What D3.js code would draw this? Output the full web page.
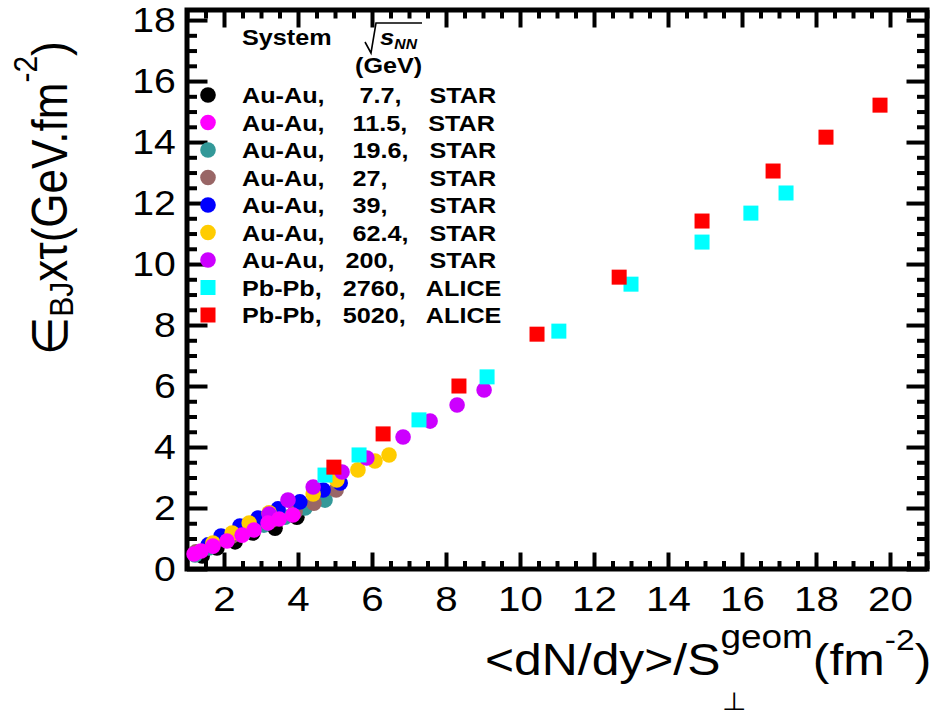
<!DOCTYPE html>
<html>
<head>
<meta charset="utf-8">
<script src="https://cdn.jsdelivr.net/npm/d3@7"></script>
<style>
  html, body { margin: 0; padding: 0; background: #fff; }
  svg { display: block; }
  text { font-family: "Liberation Sans", Arial, Helvetica, sans-serif; fill: #000; white-space: pre; }
</style>
</head>
<body>
<svg id="chart" width="932" height="716"></svg>
<script>
// Bjorken energy density x formation time vs. transverse particle density
// Each series: [<dN/dy>/S_perp, eps_BJ * tau]
const auau7p7 = [[1.41,0.43],[1.81,0.69],[2.30,0.89],[2.78,1.18],[3.38,1.34],[3.97,1.70]];
const auau11p5 = [[1.19,0.49],[1.38,0.59],[1.70,0.75],[2.08,0.92],[2.49,1.11],[2.81,1.28],[3.19,1.51],[3.49,1.64],[3.86,1.77]];
const auau19p6 = [[1.22,0.46],[1.59,0.69],[2.05,0.95],[2.54,1.18],[3.08,1.44],[3.65,1.70],[4.19,2.00],[4.73,2.26]];
const auau27 = [[1.24,0.56],[1.70,0.79],[2.22,1.08],[2.76,1.34],[3.30,1.61],[3.92,1.87],[4.43,2.16],[5.03,2.59]];
const auau39 = [[1.57,0.79],[1.92,1.08],[2.43,1.41],[2.92,1.67],[3.46,1.97],[4.05,2.20],[4.68,2.59],[5.14,2.82]];
const auau62p4 = [[1.70,0.85],[2.22,1.18],[2.68,1.51],[3.22,1.84],[4.41,2.46],[5.05,2.92],[5.62,3.25],[6.08,3.54],[6.46,3.74]];
const auau200 = [[3.22,1.80],[3.73,2.26],[4.41,2.69],[5.19,3.18],[5.86,3.64],[6.84,4.33],[7.57,4.85],[8.30,5.38],[9.03,5.87]];
const pbpb2760 = [[4.73,3.08],[5.65,3.74],[7.27,4.89],[9.11,6.30],[11.05,7.80],[13.00,9.34],[14.92,10.72],[16.24,11.67],[17.19,12.33]];
const pbpb5020 = [[4.97,3.34],[6.30,4.43],[8.35,6.00],[10.46,7.70],[12.68,9.57],[14.92,11.41],[16.84,13.05],[18.27,14.16],[19.73,15.21]];

// Legend entries (top to bottom)
const legendLabels = [
  "Au-Au,     7.7,    STAR",
  "Au-Au,    11.5,   STAR",
  "Au-Au,    19.6,   STAR",
  "Au-Au,    27,      STAR",
  "Au-Au,    39,      STAR",
  "Au-Au,    62.4,   STAR",
  "Au-Au,   200,     STAR",
  "Pb-Pb,   2760,   ALICE",
  "Pb-Pb,   5020,   ALICE"
];
const legendSeries = [auau7p7, auau11p5, auau19p6, auau27, auau39, auau62p4, auau200, pbpb2760, pbpb5020];
const colors = ["#000000", "#ff00ff", "#339999", "#996666", "#0000ff", "#ffcc00", "#cc00ff", "#00ffff", "#ff0000"];
const shapes = ["circle","circle","circle","circle","circle","circle","circle","square","square"];

// Drawing order of the series (magenta over the other STAR points, ALICE on top)
const drawOrder = [0, 2, 3, 4, 5, 6, 1, 7, 8];

const xMajor = [2, 4, 6, 8, 10, 12, 14, 16, 18, 20];
const yMajor = [0, 2, 4, 6, 8, 10, 12, 14, 16, 18];

const svg = d3.select("#chart");
const SX = 1.12; // horizontal glyph stretch of the figure fonts

const x = d3.scaleLinear().domain([1, 21]).range([187, 927]);
const y = d3.scaleLinear().domain([0, 18.33]).range([569, 10]);

const xMinor = d3.range(1, 21.001, 0.5).filter(v => xMajor.indexOf(v) < 0);
const yMinor = d3.range(0, 18.001, 0.5).filter(v => yMajor.indexOf(v) < 0);

function styleAxis(g) {
  g.select(".domain").remove();
  g.selectAll("line").attr("stroke", "#000").attr("stroke-width", 4);
}

// Bottom
svg.append("g").attr("transform", `translate(0,${y(0)})`)
  .call(d3.axisBottom(x).tickValues(xMajor).tickSize(-16.5).tickPadding(16).tickFormat(d3.format("d")))
  .call(styleAxis)
  .call(g => g.selectAll("text").attr("font-size", 36).attr("font-family", null).attr("transform", `scale(${SX},1)`));
svg.append("g").attr("transform", `translate(0,${y(0)})`)
  .call(d3.axisBottom(x).tickValues(xMinor).tickSize(-8).tickFormat(""))
  .call(styleAxis);
// Top
svg.append("g").attr("transform", `translate(0,${y.range()[1]})`)
  .call(d3.axisTop(x).tickValues(xMajor).tickSize(-17.5).tickFormat(""))
  .call(styleAxis);
svg.append("g").attr("transform", `translate(0,${y.range()[1]})`)
  .call(d3.axisTop(x).tickValues(xMinor).tickSize(-8.5).tickFormat(""))
  .call(styleAxis);
// Left
svg.append("g").attr("transform", `translate(${x(1)},0)`)
  .call(d3.axisLeft(y).tickValues(yMajor).tickSize(-20.5).tickPadding(10).tickFormat(d3.format("d")))
  .call(styleAxis)
  .call(g => g.selectAll("text").attr("font-size", 35).attr("font-family", null).attr("transform", `scale(${SX},1)`));
svg.append("g").attr("transform", `translate(${x(1)},0)`)
  .call(d3.axisLeft(y).tickValues(yMinor).tickSize(-10).tickFormat(""))
  .call(styleAxis);
// Right
svg.append("g").attr("transform", `translate(${x(21)},0)`)
  .call(d3.axisRight(y).tickValues(yMajor).tickSize(-20.5).tickFormat(""))
  .call(styleAxis);
svg.append("g").attr("transform", `translate(${x(21)},0)`)
  .call(d3.axisRight(y).tickValues(yMinor).tickSize(-10).tickFormat(""))
  .call(styleAxis);

// Frame
svg.append("rect")
  .attr("x", x(1)).attr("y", y.range()[1])
  .attr("width", x(21) - x(1)).attr("height", y(0) - y.range()[1])
  .attr("fill", "none").attr("stroke", "#000").attr("stroke-width", 5);

// Markers
const R = 7.8, S = 15;
function drawMarker(sel, shape, color) {
  if (shape === "circle") {
    sel.append("circle").attr("r", R).attr("fill", color);
  } else {
    sel.append("rect").attr("x", -S / 2).attr("y", -S / 2).attr("width", S).attr("height", S).attr("fill", color);
  }
}
const plot = svg.append("g");
drawOrder.forEach(i => {
  plot.append("g").selectAll("g").data(legendSeries[i]).join("g")
    .attr("transform", d => `translate(${x(d[0])},${y(d[1])})`)
    .each(function () { drawMarker(d3.select(this), shapes[i], colors[i]); });
});

// Legend
function stretchedText(parent, tx, ty, size, weight) {
  return parent.append("g").attr("transform", `translate(${tx},${ty}) scale(${SX},1)`)
    .append("text").attr("font-size", size).attr("font-weight", weight || "normal");
}
const legend = svg.append("g");
stretchedText(legend, 242, 45, 22.5, "bold").text("System");
legend.append("path").attr("d", "M365,42 L371,53 L376,23 L422,23")
  .attr("fill", "none").attr("stroke", "#000").attr("stroke-width", 1.6);
const sq = stretchedText(legend, 380, 45, 23, "bold").attr("font-style", "italic");
sq.append("tspan").text("s");
sq.append("tspan").attr("font-size", 14).attr("dy", 4).text("NN");
stretchedText(legend, 355, 73, 22.5, "bold").text("(GeV)");

legendLabels.forEach((lab, i) => {
  const cy = 95 + i * 27.5;
  const m = legend.append("g").attr("transform", `translate(208,${cy})`);
  drawMarker(m, shapes[i], colors[i]);
  stretchedText(legend, 242, cy + 8, 22.5, "bold").text(lab);
});

// X-axis title
const xt = stretchedText(svg, 485, 675, 44.5);
xt.append("tspan").text("<dN/dy>/S");
xt.append("tspan").attr("font-size", 33).attr("dy", -27).text("geom");
xt.append("tspan").attr("dy", 27).text("(fm");
xt.append("tspan").attr("font-size", 30).attr("dy", -25).text("-2");
xt.append("tspan").attr("dy", 25).text(")");
const perpX = xt.node().getStartPositionOfChar(9).x;
// perpendicular sign stacked under the superscript
d3.select(xt.node().parentNode).append("text")
  .attr("x", perpX + 1).attr("y", 35).attr("font-size", 25)
  .attr("font-family", "DejaVu Sans, sans-serif").text("\u22A5");

// Y-axis title
const yt = svg.append("g").attr("transform", `translate(67,355) rotate(-90) scale(1,${SX})`)
  .append("text").attr("font-size", 44);
yt.append("tspan").attr("font-family", "DejaVu Sans, sans-serif").text("\u2208");
yt.append("tspan").attr("font-size", 30).attr("dy", 5).text("BJ");
yt.append("tspan").attr("dy", -5).text("x\u03C4(GeV.fm");
yt.append("tspan").attr("font-size", 30).attr("dy", -27).text("-2");
yt.append("tspan").attr("dy", 27).text(")");
</script>
</body>
</html>
